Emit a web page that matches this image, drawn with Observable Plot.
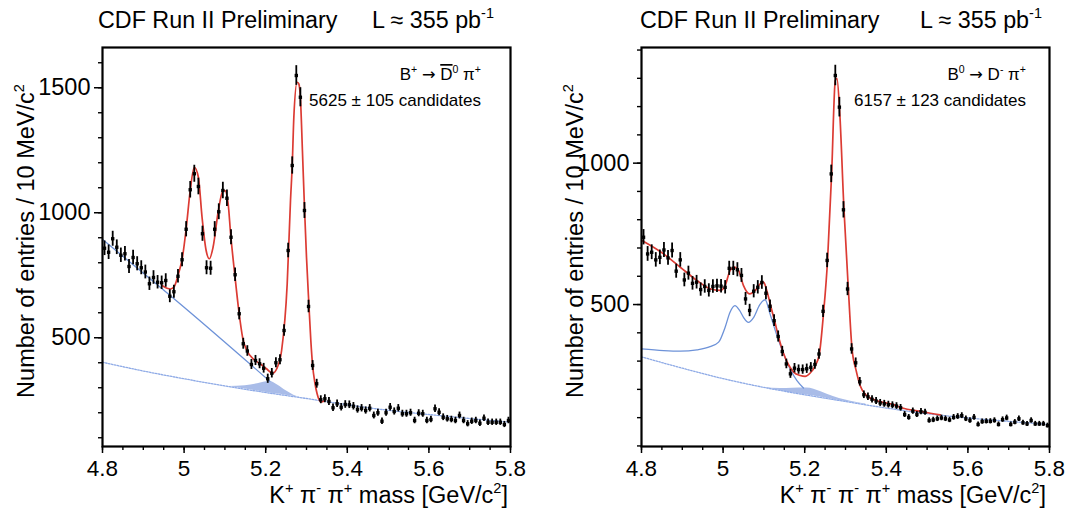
<!DOCTYPE html>
<html>
<head>
<meta charset="utf-8">
<script src="https://cdn.jsdelivr.net/npm/d3@7"></script>
<script src="https://cdn.jsdelivr.net/npm/@observablehq/plot@0.6"></script>
<style>
  html, body { margin: 0; padding: 0; background: white; }
  #wrap { display: flex; width: 1069px; height: 514px; }
  #wrap > svg { display: block; flex: none; max-width: none !important; }
</style>
</head>
<body>
<div id="wrap"></div>
<script>
const FONT = "'Liberation Sans', Arial, Helvetica, sans-serif";

const binCenters = [
  4.805, 4.815, 4.825, 4.835, 4.845, 4.855, 4.865, 4.875, 4.885, 4.895,
  4.905, 4.915, 4.925, 4.935, 4.945, 4.955, 4.965, 4.975, 4.985, 4.995,
  5.005, 5.015, 5.025, 5.035, 5.045, 5.055, 5.065, 5.075, 5.085, 5.095,
  5.105, 5.115, 5.125, 5.135, 5.145, 5.155, 5.165, 5.175, 5.185, 5.195,
  5.205, 5.215, 5.225, 5.235, 5.245, 5.255, 5.265, 5.275, 5.285, 5.295,
  5.305, 5.315, 5.325, 5.335, 5.345, 5.355, 5.365, 5.375, 5.385, 5.395,
  5.405, 5.415, 5.425, 5.435, 5.445, 5.455, 5.465, 5.475, 5.485, 5.495,
  5.505, 5.515, 5.525, 5.535, 5.545, 5.555, 5.565, 5.575, 5.585, 5.595,
  5.605, 5.615, 5.625, 5.635, 5.645, 5.655, 5.665, 5.675, 5.685, 5.695,
  5.705, 5.715, 5.725, 5.735, 5.745, 5.755, 5.765, 5.775, 5.785, 5.795
];

// B+ -> D0bar pi+ (left panel) entries per bin
const countsBplus = [
  858, 842, 896, 862, 830, 836, 785, 821, 796, 780,
  763, 716, 741, 722, 720, 729, 666, 684, 746, 812,
  934, 1092, 1156, 1105, 916, 780, 778, 934, 1004, 1089,
  1058, 902, 752, 596, 476, 447, 393, 409, 396, 378,
  336, 358, 400, 412, 529, 849, 1189, 1549, 1462, 1009,
  625, 389, 316, 252, 256, 245, 220, 236, 222, 233,
  232, 226, 213, 218, 209, 218, 189, 200, 166, 200,
  222, 205, 218, 196, 196, 200, 169, 198, 196, 169,
  173, 216, 202, 182, 176, 173, 169, 189, 169, 156,
  166, 169, 158, 178, 162, 162, 162, 162, 153, 169
];

// B0 -> D- pi+ (right panel) entries per bin
const countsB0 = [
  738, 679, 685, 658, 667, 693, 665, 691, 618, 658,
  587, 611, 575, 579, 553, 564, 550, 564, 566, 565,
  561, 628, 628, 623, 603, 520, 479, 547, 561, 578,
  540, 494, 443, 387, 334, 290, 255, 275, 270, 270,
  273, 278, 288, 325, 476, 656, 962, 1310, 1198, 835,
  555, 343, 294, 227, 181, 174, 165, 159, 152, 149,
  146, 144, 141, 135, 111, 101, 123, 111, 121, 119,
  90, 92, 96, 99, 96, 92, 101, 104, 107, 96,
  90, 101, 76, 86, 87, 87, 90, 76, 93, 99,
  76, 84, 96, 82, 78, 90, 78, 78, 78, 72
];

// total fit curves
const fitBplusX = [4.946, 4.958, 4.967, 4.976, 4.985, 4.996, 5.005, 5.015, 5.025, 5.035, 5.044, 5.054, 5.062, 5.071, 5.084, 5.094, 5.100, 5.108, 5.114, 5.124, 5.134, 5.144, 5.154, 5.169, 5.186, 5.202, 5.217, 5.227, 5.239, 5.2527, 5.2608, 5.265, 5.269, 5.277, 5.281, 5.285, 5.290, 5.295, 5.300, 5.306, 5.3106, 5.315, 5.3203, 5.326, 5.336, 5.345];
const fitBplusY = [709, 698, 695, 705, 749, 822, 935, 1089, 1182, 1142, 982, 849, 816, 862, 1009, 1083, 1089, 1036, 916, 756, 609, 496, 449, 416, 396, 376, 358, 376, 449, 716, 1049, 1189, 1383, 1522, 1516, 1462, 1249, 1023, 822, 629, 489, 389, 322, 276, 243, 249];

const fitB0X = [4.800, 4.854, 4.895, 4.936, 4.968, 4.993, 5.005, 5.017, 5.027, 5.038, 5.050, 5.065, 5.079, 5.091, 5.099, 5.107, 5.117, 5.128, 5.137, 5.148, 5.160, 5.173, 5.189, 5.201, 5.213, 5.226, 5.236, 5.246, 5.256, 5.266, 5.275, 5.279, 5.286, 5.296, 5.307, 5.316, 5.326, 5.336, 5.352, 5.377, 5.418, 5.434, 5.491, 5.532];
const fitB0Y = [727, 679, 632, 585, 556, 550, 567, 620, 632, 620, 567, 538, 550, 573, 579, 550, 493, 432, 379, 328, 288, 261, 249, 246, 257, 284, 326, 467, 656, 962, 1292, 1300, 1175, 844, 555, 343, 267, 213, 178, 160, 146, 137, 120, 110];

// other-B / partially reconstructed component (solid blue)
const otherBplusX = [4.800, 5.000, 5.210];
const otherBplusY = [893, 622, 326];
const otherB0X = [4.800, 4.854, 4.895, 4.936, 4.968, 4.989, 5.005, 5.017, 5.029, 5.040, 5.050, 5.062, 5.075, 5.090, 5.103, 5.115, 5.132, 5.148, 5.164, 5.181, 5.197];
const otherB0Y = [343, 337, 335, 340, 351, 367, 420, 473, 496, 480, 455, 437, 455, 500, 517, 467, 390, 326, 273, 231, 205];

// combinatorial background (dotted light blue)
const combX = [4.8, 4.9, 5.0, 5.1, 5.2, 5.3, 5.4, 5.5, 5.6, 5.7, 5.8];
const combBplusY = [402, 367, 336, 307, 281, 257, 232, 210, 193, 177, 162];
const combB0Y = [315, 275, 238, 207, 181, 157, 134, 114, 99, 87, 76];

// shaded component (lower edge on the combinatorial line)
const shadeBplusX = [5.11, 5.15, 5.18, 5.21, 5.23, 5.25, 5.275, 5.30];
const shadeBplusLo = [305, 295, 287, 279, 275, 270, 264, 257];
const shadeBplusHi = [305, 308, 316, 325, 310, 288, 266, 257];
const shadeB0X = [5.10, 5.14, 5.17, 5.205, 5.24, 5.27, 5.30, 5.35];
const shadeB0Lo = [207, 196, 188, 180, 172, 164, 157, 146];
const shadeB0Hi = [207, 203, 204, 205, 192, 175, 162, 148];

const xMajorTicks = [4.8, 5.0, 5.2, 5.4, 5.6, 5.8];
const xMinorTicks = [4.8, 4.85, 4.9, 4.95, 5.0, 5.05, 5.1, 5.15, 5.2, 5.25, 5.3, 5.35, 5.4, 5.45, 5.5, 5.55, 5.6, 5.65, 5.7, 5.75, 5.8];
const yMajorBplus = [500, 1000, 1500];
const yMinorBplus = [100, 200, 300, 400, 500, 600, 700, 800, 900, 1000, 1100, 1200, 1300, 1400, 1500, 1600];
const yMajorB0 = [500, 1000];
const yMinorB0 = [0, 100, 200, 300, 400, 500, 600, 700, 800, 900, 1000, 1100, 1200, 1300, 1400];

// ---- helpers ----
const zip = (xs, ys) => xs.map((x, i) => ({x, y: ys[i]}));
const zip3 = (xs, lo, hi) => xs.map((x, i) => ({x, lo: lo[i], hi: hi[i]}));

function rich(svg, {x, y, anchor = "start", size = 22, rotate = 0}, parts) {
  const t = svg.append("text")
    .attr("transform", `translate(${x},${y}) rotate(${rotate})`)
    .attr("text-anchor", anchor)
    .attr("font-family", FONT)
    .attr("font-size", size)
    .attr("fill", "black");
  let shift = 0;
  for (const p of parts) {
    if (typeof p === "string") {
      const s = t.append("tspan").text(p);
      if (shift) { s.attr("dy", shift); shift = 0; }
    } else if (p.sup !== undefined) {
      const up = -size * 0.42;
      t.append("tspan").attr("font-size", size * 0.62).attr("dy", up).text(p.sup);
      shift = -up;
    } else if (p.over !== undefined) {
      const s = t.append("tspan").style("text-decoration", "overline").text(p.over);
      if (shift) { s.attr("dy", shift); shift = 0; }
    } else if (p.sym !== undefined) {
      const s = t.append("tspan").attr("font-family", "'DejaVu Sans', sans-serif").attr("font-size", size * 0.95).text(p.sym);
      if (shift) { s.attr("dy", shift); shift = 0; }
    }
  }
  return t;
}

function panel(cfg) {
  const pts = binCenters.map((m, i) => {
    const n = cfg.counts[i];
    const e = Math.sqrt(n);
    return {m, n, lo: n - e, hi: n + e};
  });
  const fmtX = d => String(+d.toFixed(1));
  const svgNode = Plot.plot({
    width: cfg.width,
    height: 514,
    marginTop: 47,
    marginBottom: 68,
    marginLeft: cfg.ml,
    marginRight: cfg.mr,
    style: {fontFamily: FONT, background: "white", color: "black"},
    x: {domain: [4.8, 5.8]},
    y: {domain: cfg.yDomain},
    marks: [
      Plot.areaY(zip3(cfg.shadeX, cfg.shadeLo, cfg.shadeHi), {x: "x", y1: "lo", y2: "hi", fill: "#a9bce8", curve: "monotone-x", clip: true}),
      Plot.line(zip(combX, cfg.combY), {x: "x", y: "y", stroke: "#8eaae6", strokeWidth: 1.3, strokeDasharray: "1.6,1.4", curve: "monotone-x", clip: true}),
      Plot.line(zip(cfg.otherX, cfg.otherY), {x: "x", y: "y", stroke: "#6d92d8", strokeWidth: 1.3, curve: "monotone-x", clip: true}),
      Plot.line(zip(cfg.fitX, cfg.fitY), {x: "x", y: "y", stroke: "#dc3b33", strokeWidth: 1.7, curve: "monotone-x", clip: true}),
      Plot.ruleX(pts, {x: "m", y1: "lo", y2: "hi", stroke: "black", strokeWidth: 1.8, clip: true}),
      Plot.dot(pts, {x: "m", y: "n", symbol: "square", r: 1.9, fill: "black", stroke: "none"}),
      Plot.axisX({ticks: xMinorTicks, tickSize: 4, fill: "none", strokeWidth: 1.4, label: null}),
      Plot.axisX({ticks: xMajorTicks, tickSize: 7, tickPadding: 7, fontSize: 22.5, tickFormat: fmtX, strokeWidth: 1.5, label: null}),
      Plot.axisY({ticks: cfg.yMinor, tickSize: 4, fill: "none", strokeWidth: 1.4, label: null}),
      Plot.axisY({ticks: cfg.yMajor, tickSize: 8, tickPadding: 4, fontSize: 23.5, tickFormat: d => String(d), strokeWidth: 1.5, label: null}),
      Plot.frame({stroke: "black", strokeWidth: 2.2})
    ]
  });
  const svg = d3.select(svgNode);
  rich(svg, {x: cfg.titleX, y: 28, size: 23.3}, ["CDF Run II Preliminary"]);
  rich(svg, {x: cfg.lumiX, y: 28, size: 23.3}, ["L \u2248 355 pb", {sup: "-1"}]);
  rich(svg, {x: cfg.annX, y: 80, size: 17, anchor: "end"}, cfg.decay);
  rich(svg, {x: cfg.annX, y: 106, size: 17, anchor: "end"}, [cfg.yieldText]);
  rich(svg, {x: cfg.yTitleX, y: 241, size: 23.5, anchor: "middle", rotate: -90}, ["Number of entries / 10 MeV/c", {sup: "2"}]);
  rich(svg, {x: cfg.xTitleX, y: 503, size: 23.5, anchor: "end"}, cfg.xTitle);
  return svgNode;
}

const left = panel({
  width: 534, ml: 102, mr: 24, yDomain: [65, 1661],
  counts: countsBplus,
  fitX: fitBplusX, fitY: fitBplusY,
  otherX: otherBplusX, otherY: otherBplusY,
  combY: combBplusY,
  shadeX: shadeBplusX, shadeLo: shadeBplusLo, shadeHi: shadeBplusHi,
  yMajor: yMajorBplus, yMinor: yMinorBplus,
  titleX: 98, lumiX: 372, annX: 481, yTitleX: 34, xTitleX: 508,
  decay: ["B", {sup: "+"}, " ", {sym: "\u2192"}, " ", {over: "D"}, {sup: "0"}, " \u03c0", {sup: "+"}],
  yieldText: "5625 \u00b1 105 candidates",
  xTitle: ["K", {sup: "+"}, " \u03c0", {sup: "-"}, " \u03c0", {sup: "+"}, " mass [GeV/c", {sup: "2"}, "]"]
});

const right = panel({
  width: 535, ml: 107, mr: 20, yDomain: [-2, 1409],
  counts: countsB0,
  fitX: fitB0X, fitY: fitB0Y,
  otherX: otherB0X, otherY: otherB0Y,
  combY: combB0Y,
  shadeX: shadeB0X, shadeLo: shadeB0Lo, shadeHi: shadeB0Hi,
  yMajor: yMajorB0, yMinor: yMinorB0,
  titleX: 106, lumiX: 386, annX: 492, yTitleX: 49, xTitleX: 512,
  decay: ["B", {sup: "0"}, " ", {sym: "\u2192"}, " D", {sup: "-"}, " \u03c0", {sup: "+"}],
  yieldText: "6157 \u00b1 123 candidates",
  xTitle: ["K", {sup: "+"}, " \u03c0", {sup: "-"}, " \u03c0", {sup: "-"}, " \u03c0", {sup: "+"}, " mass [GeV/c", {sup: "2"}, "]"]
});

const wrap = document.getElementById("wrap");
wrap.appendChild(left);
wrap.appendChild(right);
</script>
</body>
</html>
